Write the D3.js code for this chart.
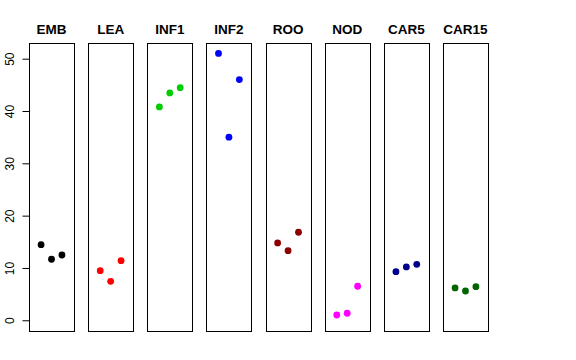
<!DOCTYPE html>
<html>
<head>
<meta charset="utf-8">
<script src="https://cdn.jsdelivr.net/npm/d3@7"></script>
<style>
  body { margin: 0; background: #fff; }
  text { font-family: "Liberation Sans", Arial, sans-serif; }
</style>
</head>
<body>
<div id="chart"></div>
<script>
// panel names and colours
const groups = ["EMB", "LEA", "INF1", "INF2", "ROO", "NOD", "CAR5", "CAR15"];
const colors = ["#000000", "#FF0000", "#00CD00", "#0000FF", "#8B0000", "#FF00FF", "#00008B", "#006400"];

// three values per panel
const EMB = [14.45, 11.66, 12.48];
const LEA = [9.48, 7.45, 11.4];
const INF1 = [40.78, 43.46, 44.47];
const INF2 = [51.0, 35.0, 46.0];
const ROO = [14.78, 13.31, 16.83];
const NOD = [1.01, 1.34, 6.5];
const CAR5 = [9.29, 10.19, 10.7];
const CAR15 = [6.18, 5.6, 6.42];
const values = [EMB, LEA, INF1, INF2, ROO, NOD, CAR5, CAR15];

const yTicks = [0, 10, 20, 30, 40, 50];

const width = 576;
const height = 360;
const margin = {top: 43, left: 29, right: 88, bottom: 29};

const svg = d3.select("#chart")
    .append("svg")
    .attr("width", width)
    .attr("height", height);

// one band per panel
const xBand = d3.scaleBand()
    .domain(groups)
    .range([margin.left, width - margin.right])
    .paddingInner(0.2386)
    .paddingOuter(0);

const yScale = d3.scaleLinear()
    .domain([-2.05, 53.0])
    .range([height - margin.bottom, margin.top]);

groups.forEach(function(g, i) {
    const x0 = xBand(g);
    const xScale = d3.scaleLinear()
        .domain([-0.16, 4.16])
        .range([x0, x0 + xBand.bandwidth()]);

    const panel = svg.append("g");

    panel.append("rect")
        .attr("x", Math.round(x0) + 0.5)
        .attr("y", margin.top + 0.5)
        .attr("width", Math.round(xBand.bandwidth()))
        .attr("height", height - margin.bottom - margin.top)
        .attr("fill", "none")
        .attr("stroke", "#000")
        .attr("stroke-width", 1);

    panel.append("text")
        .attr("x", x0 + xBand.bandwidth() / 2)
        .attr("y", 34)
        .attr("text-anchor", "middle")
        .style("font-size", "13.5px")
        .style("font-weight", "bold")
        .text(g);

    panel.selectAll("circle")
        .data(values[i])
        .enter()
        .append("circle")
            .attr("cx", function(d, j) { return xScale(j + 1); })
            .attr("cy", function(d) { return yScale(d); })
            .attr("r", 3.4)
            .attr("fill", colors[i]);
});

// y axis
const yAxis = svg.append("g")
    .attr("transform", `translate(${Math.round(margin.left) + 0.5},0)`)
    .call(d3.axisLeft(yScale).tickValues(yTicks).tickSize(7).tickSizeOuter(0));

yAxis.select(".domain")
    .attr("d", `M0,${yScale(0)}V${yScale(50)}`);

yAxis.selectAll(".tick text")
    .attr("x", null)
    .attr("dy", null)
    .attr("y", 0)
    .attr("text-anchor", "middle")
    .attr("transform", "translate(-16,0) rotate(-90)")
    .style("font-size", "12px")
    .style("font-family", "'Liberation Sans', Arial, sans-serif")
    .attr("fill", "#000");
</script>
</body>
</html>
